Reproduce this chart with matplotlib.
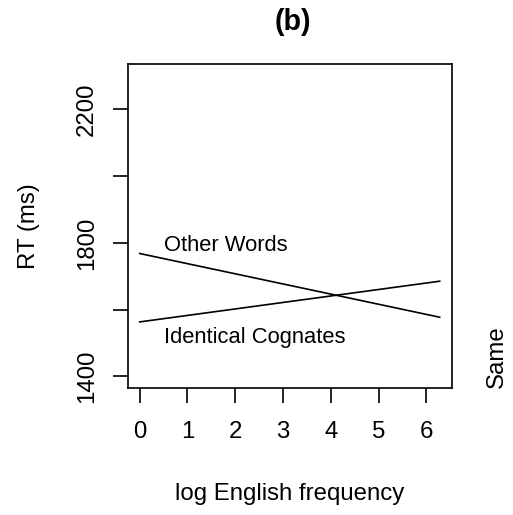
import matplotlib
matplotlib.use("Agg")
import matplotlib.pyplot as plt

plt.rcParams["font.family"] = ["Liberation Sans", "DejaVu Sans"]

# data (fitted lines, RT in ms vs log frequency)
freq_range = [0.0, 6.28]
other_words_rt = [1768, 1577]
identical_cognates_rt = [1563, 1685]

x_ticks = [0, 1, 2, 3, 4, 5, 6]
y_ticks = [1400, 1600, 1800, 2000, 2200]
y_tick_labels = ["1400", "", "1800", "", "2200"]
y_limits = [1400, 2300]

W, H = 513, 515
fig = plt.figure(figsize=(W / 100, H / 100), dpi=100)
ax = fig.add_axes([127.7 / W, 1 - 388.3 / H, (451.7 - 127.7) / W, (388.3 - 64) / H])

lw = 1.2
ax.plot(freq_range, other_words_rt, color="black", lw=lw)
ax.plot(freq_range, identical_cognates_rt, color="black", lw=lw)

ax.text(0.5, 1776, "Other Words", fontsize=15.8, va="baseline", ha="left")
ax.text(0.5, 1501, "Identical Cognates", fontsize=15.8, va="baseline", ha="left")

# R-style 4% padding
xpad = 0.04 * (freq_range[1] - freq_range[0])
ypad = 0.04 * (y_limits[1] - y_limits[0])
ax.set_xlim(freq_range[0] - xpad, freq_range[1] + xpad)
ax.set_ylim(y_limits[0] - ypad, y_limits[1] + ypad)

ax.set_xticks(x_ticks)
ax.set_yticks(y_ticks)
ax.set_yticklabels(y_tick_labels)
for s in ax.spines.values():
    s.set_linewidth(lw)
ax.tick_params(axis="both", direction="out", length=10.8, width=lw, labelsize=17.3)
ax.tick_params(axis="x", pad=12.6)
ax.tick_params(axis="y", pad=10.6)
for lab in ax.get_yticklabels():
    lab.set_rotation(90)
    lab.set_va("center")

ax.set_xlabel("log English frequency", fontsize=17.3, labelpad=29)
ax.set_ylabel("RT (ms)", fontsize=17.3, labelpad=26)

fig.text(293 / W, 1 - 22.5 / H, "(b)", fontsize=20.7, fontweight="bold",
         ha="center", va="center")
fig.text(497 / W, 1 - 388.3 / H, "Same", fontsize=17.3, rotation=90,
         ha="center", va="bottom")

fig.savefig("out.png", dpi=100)
